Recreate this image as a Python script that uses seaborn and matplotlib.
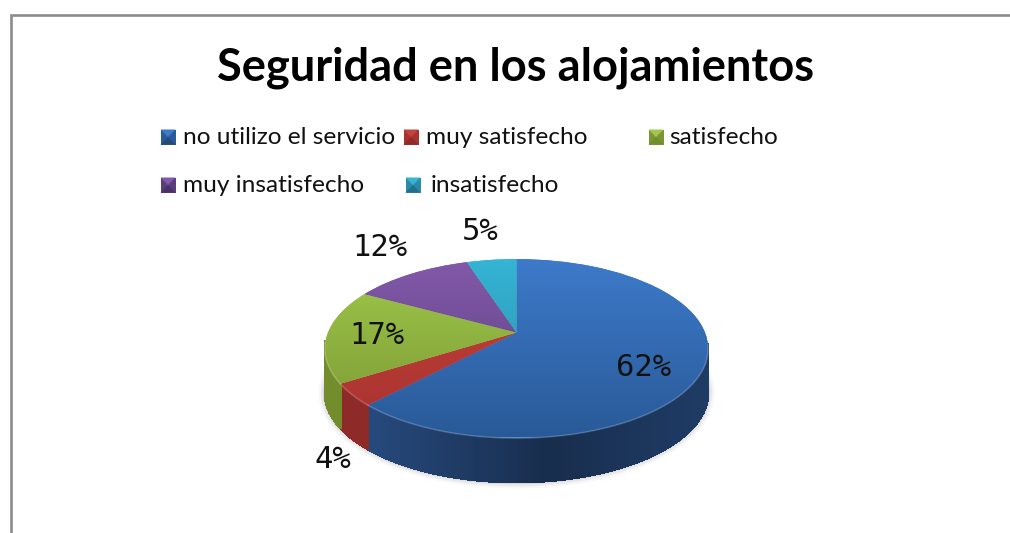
import numpy as np
import matplotlib
matplotlib.use("Agg")
import matplotlib.pyplot as plt
import matplotlib.transforms as mtransforms
from matplotlib.collections import PolyCollection
import seaborn as sns

# ---- data ----
categories = ["no utilizo el servicio", "muy satisfecho", "satisfecho",
              "muy insatisfecho", "insatisfecho"]
values = [62, 4, 17, 12, 5]
title = "Seguridad en los alojamientos"

# ---- colours ----
top_light = ["#3d7aca", "#c4423e", "#9fc94c", "#8259aa", "#35b4d4"]
top_dark = ["#295a98", "#a8322e", "#7a9632", "#5a3d7c", "#2a8aa8"]
side_col = ["#26497c", "#8e2b29", "#738d2d", "#4a3266", "#226f88"]

sns.set_theme(style="white")
W, H = 1010, 533
fig = plt.figure(figsize=(W / 100, H / 100), dpi=100, facecolor="white")
ax = fig.add_axes([0, 0, 1, 1])

# ---- geometry of the tilted pie, in figure pixels ----
CX, CY, A, B, C, K, DEPTH = 516.5, 348.5, 188.5, 89.5, 16.0, 0.18, 44.0


def project(u, v):
    w = 1 + K * v
    return CX + A * u / w, CY - (B * v + C) / w


class Perspective(mtransforms.Transform):
    input_dims = output_dims = 2
    has_inverse = False

    def transform_non_affine(self, xy):
        xy = np.asarray(xy, dtype=float)
        return np.column_stack(project(xy[:, 0], xy[:, 1]))


# soft shadow + side wall, from the cumulative shares
total = sum(values)
edges = np.cumsum([0] + values) / total * 2 * np.pi
th_all = np.linspace(0, 2 * np.pi, 400)
sx, sy = project(np.sin(th_all), np.cos(th_all))
for lw, al in [(9, .03), (6, .05), (3, .08)]:
    ax.plot(sx, sy + DEPTH, color="black", lw=lw, alpha=al, zorder=1)

for i in range(len(values)):
    th = np.linspace(edges[i], edges[i + 1], 120)
    x, y = project(np.sin(th), np.cos(th))
    quads, cols = [], []
    base = np.array(matplotlib.colors.to_rgb(side_col[i]))
    for j in range(len(th) - 1):
        if np.cos(th[j]) > -.1:      # the back of the wall is hidden
            continue
        quads.append([(x[j], y[j]), (x[j + 1], y[j + 1]),
                      (x[j + 1], y[j + 1] + DEPTH), (x[j], y[j] + DEPTH)])
        cols.append(base * np.interp(x[j], [325, 372, 550, 708], [1, 1, .62, .82]))
    if quads:
        ax.add_collection(PolyCollection(quads, facecolors=cols, edgecolors=cols,
                                         linewidths=1.2, antialiaseds=False, zorder=2))

# top face: real pie wedges seen through the perspective transform
wedges, _ = ax.pie(values, startangle=90, counterclock=False,
                   colors=top_light, radius=1, center=(0, 0))
persp = Perspective() + ax.transData
for i, wd in enumerate(wedges):
    wd.set_transform(persp)
    wd.set_zorder(3)
    wd.set_linewidth(0)
    grad = np.array(sns.blend_palette([top_light[i], top_dark[i]], 90))[:, None, :]
    im = ax.imshow(grad, extent=(325, 708, 437, 259), aspect="auto", zorder=4,
                   interpolation="bilinear")
    im.set_clip_path(wd)
    # light rim on the front edge
    th = np.linspace(edges[i], edges[i + 1], 120)
    th = th[np.cos(th) < -.1]
    if len(th):
        x, y = project(np.sin(th), np.cos(th))
        ax.plot(x, y, color="white", alpha=.18, lw=1.2, zorder=5)

ax.set_xlim(0, W)
ax.set_ylim(H, 0)
ax.set_aspect("auto")
ax.axis("off")

# frame
ax.plot([11, 11, W], [H, 14.5, 14.5], color="#8c8c8c", lw=1.9, zorder=1,
        solid_joinstyle="miter", clip_on=True)

# title
ax.text(516, 68, title, ha="center", va="center", fontsize=32.6,
        fontweight="bold", family="Lato", color="black", zorder=6)

# legend, drawn by hand because its columns are irregular
marker_xy = [(168, 137), (411, 137), (656, 137), (168, 185), (413, 185)]
text_xy = [(183, 138), (426, 138), (669, 138), (183, 186), (431, 186)]
S = 7.5
for i, cat in enumerate(categories):
    mx, my = marker_xy[i]
    l, t, r, b = mx - S, my - S, mx + S, my + S
    d = S * .45
    ax.fill([l, r, r, l], [t, t, b, b], color=top_dark[i], zorder=6, lw=0)
    ax.fill([l, r, mx], [t, t, my], color=top_light[i], zorder=7, lw=0)
    ax.fill([l, r, mx], [b, b, my], color=side_col[i], zorder=7, lw=0)
    ax.fill([l + d, r - d, mx], [t + d * .3, t + d * .3, my], color=top_light[i], zorder=7, lw=0)
    ax.text(*text_xy[i], cat, ha="left", va="center", fontsize=17.6, family="Lato",
            color="#111111", zorder=7)

# percentage labels
label_xy = [(644, 368), (333, 460), (377, 335), (380, 248), (480, 231)]
for val, (lx, ly) in zip(values, label_xy):
    ax.text(lx, ly, f"{val}%", ha="center", va="center", fontsize=22,
            family="DejaVu Sans Mono", color="#111111", zorder=8)

fig.savefig("out.png", dpi=100, facecolor="white")
